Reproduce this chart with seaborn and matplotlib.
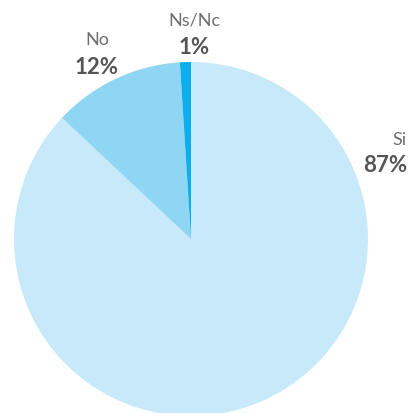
import matplotlib
matplotlib.use("Agg")
import matplotlib.pyplot as plt
import seaborn as sns

# data
labels = ["Si", "No", "Ns/Nc"]
values = [87, 12, 1]
colors = ["#c7e9f9", "#8fd6f5", "#0cafec"]

sns.set_style("white")
plt.rcParams['font.family'] = ['Lato', 'DejaVu Sans']

W, H = 412, 414
fig = plt.figure(figsize=(W / 100, H / 100), dpi=100)
ax = fig.add_axes([0, 0, 1, 1])

# pie centre ~ (191, 240) px, radius ~177 px
r_px = 177.0
cx, cy = 191.0, 240.0
ax.pie(values, colors=colors, startangle=90, counterclock=False,
       radius=1, center=(0, 0), wedgeprops=dict(linewidth=0))
ax.set_xlim(-cx / r_px, (W - cx) / r_px)
ax.set_ylim((cy - H) / r_px, cy / r_px)
ax.set_aspect("equal")
ax.axis("off")

# label positions in pixels: x, alignment, name y, percent y
label_pos = {
    "Si": (407, "right", 140, 166),
    "No": (97, "center", 40, 68),
    "Ns/Nc": (194, "center", 20, 47),
}
for lab, val in zip(labels, values):
    x, ha, y1, y2 = label_pos[lab]
    fig.text(x / W, 1 - y1 / H, lab, ha=ha, va="center",
             fontsize=13, color="#6e6e6e")
    fig.text(x / W, 1 - y2 / H, f"{val}%", ha=ha, va="center",
             fontsize=16, fontweight="bold", color="#555555")

fig.savefig("out.png", dpi=100)
